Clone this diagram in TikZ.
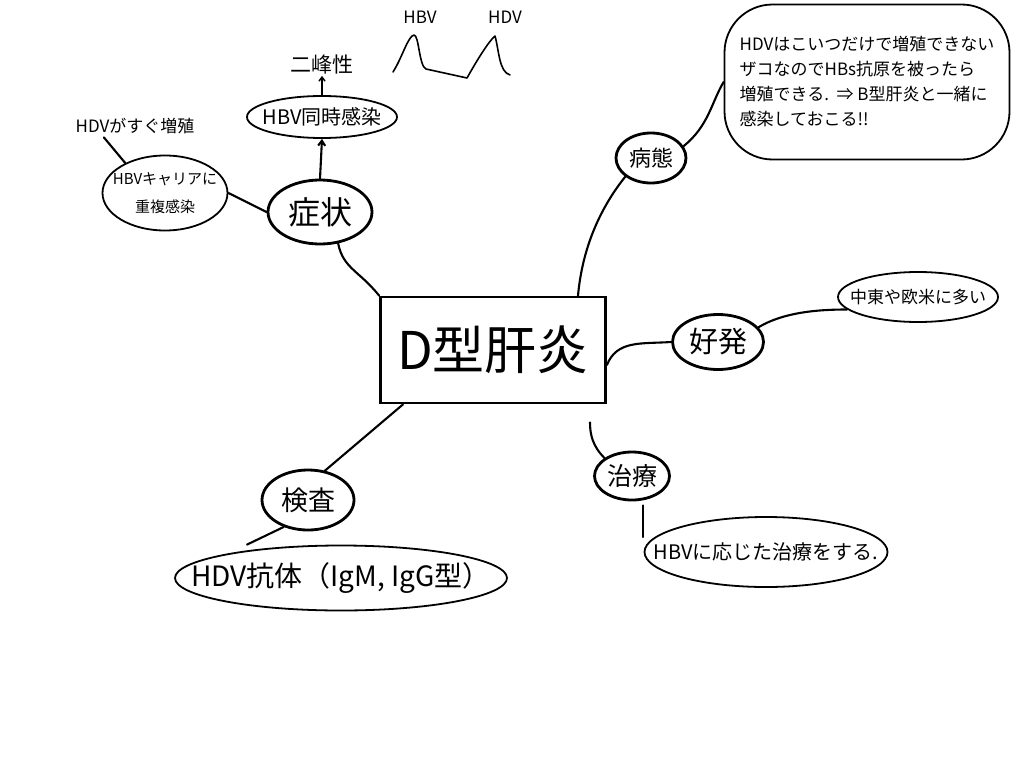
\documentclass[tikz,border=0pt]{standalone}
\usepackage{fontspec}
\setmainfont{Noto Sans CJK JP}
\usetikzlibrary{shapes.geometric,arrows.meta}
\begin{document}
\begin{tikzpicture}[x=1pt,y=-1pt,
  topic/.style={draw,ellipse,line width=2.8pt,inner xsep=-20pt,inner ysep=-10pt},
  note/.style={draw,ellipse,line width=1.8pt,inner xsep=-50pt,inner ysep=-20pt},
  plain/.style={inner sep=1pt},
  link/.style={line width=2.1pt,line cap=round},
  fs/.style 2 args={font=\fontsize{#1}{#2}\selectfont},
]
\useasboundingbox (0,0) rectangle (1024,768);

% central node
\node[draw,line width=2.8pt,minimum width=225,minimum height=106,fs={52}{60}] (center) at (493,350) {D型肝炎};

% topics
\node[topic,minimum width=104,minimum height=64,fs={32}{36}] (sym) at (320,212) {症状};
\node[topic,minimum width=70,minimum height=50,fs={22}{26}] (path) at (651,158) {病態};
\node[topic,minimum width=91,minimum height=55,fs={29}{32}] (freq) at (718,342) {好発};
\node[topic,minimum width=75,minimum height=48,fs={25}{28}] (treat) at (632,476) {治療};
\node[topic,minimum width=92,minimum height=60,fs={27}{30}] (exam) at (308,500) {検査};

% notes
\node[note,minimum width=125,minimum height=75,align=center,fs={15}{28}] (carrier) at (165,193) {HBVキャリアに\\重複感染};
\node[plain,fs={17}{20}] (fast) at (135,126) {HDVがすぐ増殖};
\node[note,minimum width=150,minimum height=42,fs={20}{24}] (coinf) at (322,117) {HBV同時感染};
\node[plain,fs={21}{24}] (bimodal) at (322,65) {二峰性};
\node[draw,rounded corners=48,line width=1.8pt,minimum width=285,minimum height=155,align=left,fs={17}{25}] (callout) at (867,82)
  {HDVはこいつだけで増殖できない\\ザコなのでHBs抗原を被ったら\\増殖できる.\ \ ⇒ B型肝炎と一緒に\\感染しておこる!!};
\node[note,minimum width=160,minimum height=50,fs={17}{20}] (area) at (918,297) {中東や欧米に多い};
\node[note,minimum width=243,minimum height=70,fs={20}{24}] (treatnote) at (766,552) {HBVに応じた治療をする.};
\node[note,minimum width=332,minimum height=65,fs={28}{32}] (antibody) at (341,578) {HDV抗体（IgM, IgG型）};

% graph labels
\node[plain,fs={17}{20}] (hbvlab) at (420,17) {HBV};
\node[plain,fs={17}{20}] (hdvlab) at (505,17) {HDV};
\draw[line width=1.6pt,line cap=round,line join=round]
  (393,72) .. controls (402,58) and (408,36) .. (414,35)
  .. controls (419,35) and (419,66) .. (426,69) -- (467,78)
  .. controls (476,62) and (488,42) .. (495,36)
  .. controls (499,50) and (499,72) .. (510,75);

% connectors
\draw[link] (sym.west) -- (carrier.east);
\draw[link,shorten <=3pt] ([xshift=-33]fast.south) -- (carrier.143);
\draw[link,-{Straight Barb[length=5pt,width=7pt]}] (sym.north) -- (coinf.south);
\draw[line width=1.5pt,-{Straight Barb[length=4pt,width=6pt]}] (coinf.north) -- (bimodal.south);
\draw[link] (sym.300) .. controls +(5,25) and +(-20,-25) .. (center.north west);
\draw[link] ([xshift=85]center.north) .. controls +(5,-55) and +(-20,25) .. (path.south west);
\draw[link] (path.20) .. controls +(25,-20) and +(-12,20) .. (callout.west);
\draw[link] ([yshift=-15]center.east) .. controls +(10,-25) and +(-30,2) .. (freq.west);
\draw[link] (freq.20) .. controls +(25,-15) and +(-30,0) .. (area.190);
\draw[link,shorten <=18pt] ([xshift=97]center.south) .. controls +(0,30) and +(-12,-12) .. (treat.north west);
\draw[link,shorten <=4pt,shorten >=15pt] ([xshift=11]treat.south) -- ([xshift=11]treat.south |- treatnote.west);
\draw[link] ([xshift=-90]center.south) -- (exam.60);
\draw[link] (exam.228) -- ([xshift=-94]antibody.north);
\end{tikzpicture}
\end{document}
